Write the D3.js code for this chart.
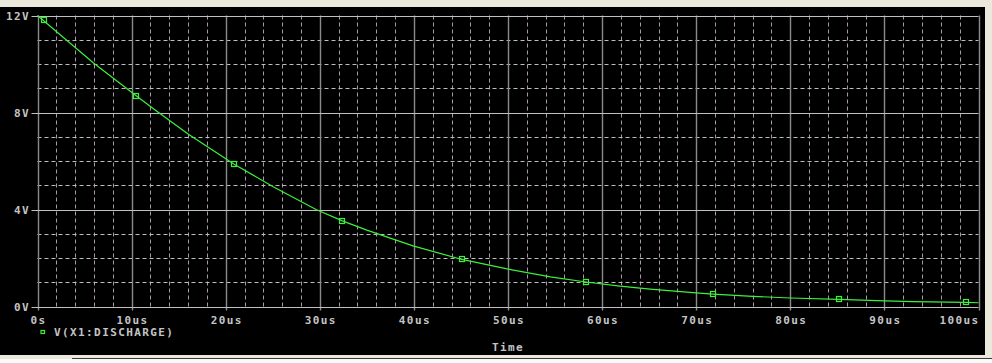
<!DOCTYPE html>
<html>
<head>
<meta charset="utf-8">
<script src="https://cdn.jsdelivr.net/npm/d3@7"></script>
<style>
  html, body { margin: 0; padding: 0; background: #ebe8dc; }
  svg { display: block; }
  .lbl { font-family: "DejaVu Sans Mono", monospace; font-weight: bold; font-size: 11px; letter-spacing: 1.4px; fill: #c4c4c4; }
</style>
</head>
<body>
<svg id="chart" width="992" height="363"></svg>
<script>
// ---- data ----
const timeUs = [0, 5.95, 10.45, 12.5, 16.04, 20.9, 25.0, 29.6, 32.4, 35.0, 39.9, 45.1, 49.9, 54.5, 58.3, 61.9, 65.1, 70.0, 71.8, 76.0, 80.0, 85.2, 89.2, 93.0, 98.7, 100];
const voltage = [12.0, 10.04, 8.70, 8.10, 7.10, 5.87, 4.95, 4.0, 3.53, 3.15, 2.50, 1.94, 1.55, 1.22, 1.01, 0.84, 0.72, 0.56, 0.51, 0.42, 0.35, 0.29, 0.24, 0.20, 0.17, 0.155];
const markerTimeUs = [0.68, 10.45, 20.9, 32.4, 45.1, 58.3, 71.8, 85.2, 98.7];
const markerVoltage = [11.81, 8.70, 5.87, 3.53, 1.94, 1.01, 0.51, 0.29, 0.17];
const xTicks = [0, 10, 20, 30, 40, 50, 60, 70, 80, 90, 100];
const xTickLabels = ["0s", "10us", "20us", "30us", "40us", "50us", "60us", "70us", "80us", "90us", "100us"];
const yTicks = [0, 4, 8, 12];
const yTickLabels = ["0V", "4V", "8V", "12V"];
const seriesName = "V(X1:DISCHARGE)";
const xTitle = "Time";

const svg = d3.select("#chart");
const L = 37.5, R = 978.5, T = 15.5, B = 306.5;
const x = d3.scaleLinear().domain([0, 100]).range([L, R]);
const y = d3.scaleLinear().domain([0, 12]).range([B, T]);

// black panel
svg.append("rect").attr("x", 0).attr("y", 7).attr("width", 985).attr("height", 348).attr("fill", "#000");
svg.append("line").attr("x1", 72).attr("x2", 992).attr("y1", 358.5).attr("y2", 358.5).attr("stroke", "#3a3a3a");
svg.append("rect").attr("x", 0).attr("y", 359).attr("width", 992).attr("height", 4).attr("fill", "#fafafa");

const g = svg.append("g");

// minor dashed grid
const minorX = d3.range(0, 101, 2).filter(v => v % 10 !== 0);
g.selectAll(".mx").data(minorX).join("line")
  .attr("x1", d => Math.round(x(d)) + 0.5).attr("x2", d => Math.round(x(d)) + 0.5)
  .attr("y1", T).attr("y2", B)
  .attr("stroke", "#a898a8").attr("stroke-dasharray", "4,3");
const minorY = d3.range(0, 13, 1).filter(v => v % 4 !== 0);
g.selectAll(".my").data(minorY).join("line")
  .attr("x1", L).attr("x2", R)
  .attr("y1", d => Math.round(y(d)) + 0.5).attr("y2", d => Math.round(y(d)) + 0.5)
  .attr("stroke", "#bdbdbd").attr("stroke-dasharray", "4,3");

// major solid grid
g.selectAll(".Mx").data(xTicks).join("line")
  .attr("x1", d => Math.round(x(d)) + 0.5).attr("x2", d => Math.round(x(d)) + 0.5)
  .attr("y1", T).attr("y2", B + 4)
  .attr("stroke", "#8a8a8a").attr("stroke-width", 1.4);
g.selectAll(".My").data(yTicks).join("line")
  .attr("x1", L - 6).attr("x2", R)
  .attr("y1", d => Math.round(y(d)) + 0.5).attr("y2", d => Math.round(y(d)) + 0.5)
  .attr("stroke", "#c0c0c0").attr("stroke-width", 1);

// tick labels
g.selectAll(".xl").data(xTicks).join("text")
  .attr("class", "lbl")
  .attr("x", d => x(d) + 1)
  .attr("y", 324)
  .attr("text-anchor", (d, i) => i === xTicks.length - 1 ? "end" : "middle")
  .text((d, i) => xTickLabels[i]);
g.selectAll(".yl").data(yTicks).join("text")
  .attr("class", "lbl")
  .attr("x", 30)
  .attr("y", d => y(d) + 4)
  .attr("text-anchor", "end")
  .text((d, i) => yTickLabels[i]);

// series line
const pts = timeUs.map((t, i) => [t, voltage[i]]);
g.append("path").datum(pts)
  .attr("fill", "none").attr("stroke", "#3cf03c").attr("stroke-width", 1.2)
  .attr("d", d3.line().x(d => x(d[0])).y(d => y(d[1])));

// markers
const mk = markerTimeUs.map((t, i) => [t, markerVoltage[i]]);
g.selectAll(".mk").data(mk).join("rect")
  .attr("x", d => Math.round(x(d[0])) - 2.5).attr("y", d => Math.round(y(d[1])) - 2.5)
  .attr("width", 5).attr("height", 5)
  .attr("fill", "none").attr("stroke", "#3cf03c").attr("stroke-width", 1.2);

// legend
svg.append("rect").attr("x", 41).attr("y", 330.5).attr("width", 3.5).attr("height", 3)
  .attr("fill", "none").attr("stroke", "#3cf03c").attr("stroke-width", 1.2);
svg.append("text").attr("class", "lbl").attr("x", 54).attr("y", 336).text(seriesName);

// axis title
svg.append("text").attr("class", "lbl").attr("x", (L + R) / 2).attr("y", 351)
  .attr("text-anchor", "middle").text(xTitle);
</script>
</body>
</html>
